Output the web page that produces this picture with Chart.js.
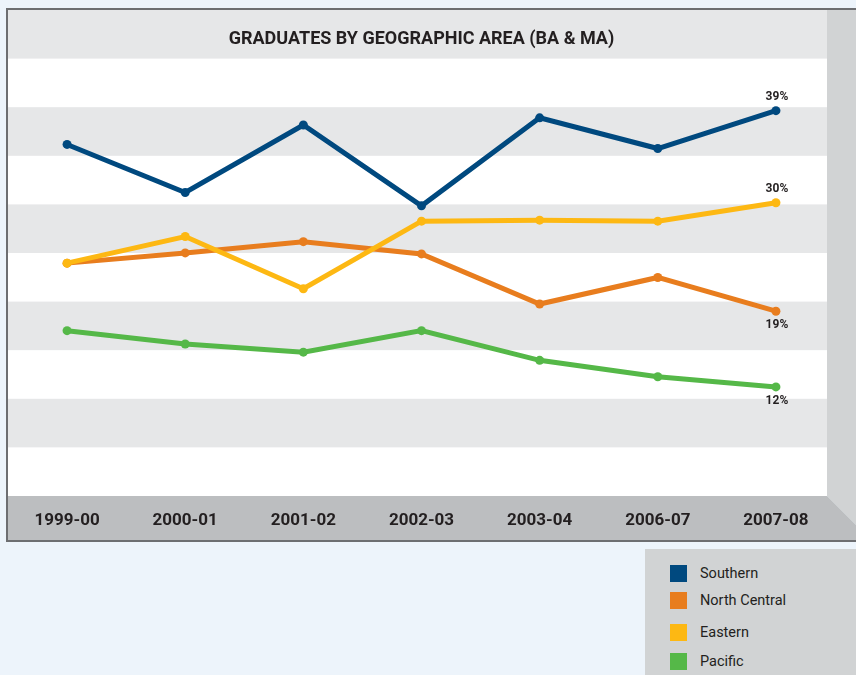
<!DOCTYPE html>
<html>
<head>
<meta charset="utf-8">
<script src="https://cdn.jsdelivr.net/npm/chart.js@4"></script>
<style>
    body { margin: 0; background: #edf4fb; }
    #wrap { position: relative; width: 856px; height: 675px; overflow: hidden; }
    #legend {
        position: absolute; left: 645px; top: 549px; width: 211px; height: 126px;
        background: #d1d3d4; font-family: Roboto, 'Liberation Sans', sans-serif;
        font-size: 14.5px; color: #231f20;
    }
    .item { position: absolute; left: 25px; height: 17px; line-height: 17px; }
    .item span { display: inline-block; width: 17px; height: 17px; vertical-align: top; margin-right: 13px; }
</style>
</head>
<body>
<div id="wrap">
    <canvas id="chart" width="856" height="675"></canvas>
    <div id="legend"></div>
</div>
<script>
const years = ['1999-00', '2000-01', '2001-02', '2002-03', '2003-04', '2006-07', '2007-08'];
const seriesNames = ['Southern', 'North Central', 'Eastern', 'Pacific'];
const southern = [35.7, 31.0, 37.6, 29.7, 38.3, 35.3, 39.0];
const northCentral = [24.1, 25.1, 26.2, 25.0, 20.1, 22.7, 19.4];
const eastern = [24.1, 26.7, 21.6, 28.2, 28.3, 28.2, 30.0];
const pacific = [17.5, 16.2, 15.4, 17.5, 14.6, 13.0, 12.0];
const colors = ['#00497f', '#e87d1e', '#fdb813', '#55b848'];
const labelSide = ['top', 'bottom', 'top', 'bottom'];

const boldFont = "Roboto, 'Liberation Sans', sans-serif";

// panel, stripes, side wall and floor band behind the lines
const backdrop = {
    id: 'backdrop',
    beforeDraw(chart) {
        const ctx = chart.ctx;
        const area = chart.chartArea;
        const h = (area.bottom - area.top) / 9;
        const top = area.top - h;
        const wallX = 827;
        ctx.save();
        for (let i = 0; i < 10; i++) {
            ctx.fillStyle = i % 2 === 0 ? '#e6e7e8' : '#ffffff';
            ctx.fillRect(8, top + i * h, wallX - 8, h + 0.5);
        }
        ctx.fillStyle = '#d1d3d4';
        ctx.beginPath();
        ctx.moveTo(wallX, top);
        ctx.lineTo(856, top);
        ctx.lineTo(856, area.bottom + 29);
        ctx.lineTo(wallX, area.bottom);
        ctx.closePath();
        ctx.fill();
        ctx.fillStyle = '#bcbec0';
        ctx.beginPath();
        ctx.moveTo(8, area.bottom);
        ctx.lineTo(wallX, area.bottom);
        ctx.lineTo(856, area.bottom + 29);
        ctx.lineTo(856, 540);
        ctx.lineTo(8, 540);
        ctx.closePath();
        ctx.fill();
        ctx.strokeStyle = '#6d6e71';
        ctx.lineWidth = 2;
        ctx.beginPath();
        ctx.moveTo(860, 9);
        ctx.lineTo(7, 9);
        ctx.lineTo(7, 541);
        ctx.lineTo(860, 541);
        ctx.stroke();
        ctx.restore();
    }
};

const endLabels = {
    id: 'endLabels',
    afterDatasetsDraw(chart) {
        const ctx = chart.ctx;
        ctx.save();
        ctx.font = 'bold 12px ' + boldFont;
        ctx.fillStyle = '#231f20';
        ctx.textAlign = 'center';
        ctx.textBaseline = 'middle';
        chart.data.datasets.forEach((ds, i) => {
            const side = labelSide[seriesNames.indexOf(ds.label)];
            const meta = chart.getDatasetMeta(i);
            const last = ds.data.length - 1;
            const pt = meta.data[last];
            const y = side === 'top' ? pt.y - 14 : pt.y + 14;
            ctx.fillText(Math.round(ds.data[last]) + '%', pt.x + 1, y);
        });
        ctx.restore();
    }
};

const allData = [southern, northCentral, eastern, pacific];

new Chart(document.getElementById('chart'), {
    type: 'line',
    data: {
        labels: years,
        datasets: seriesNames.map((name, i) => ({
            label: name,
            data: allData[i],
            borderColor: colors[i],
            backgroundColor: colors[i],
            borderWidth: 5,
            pointRadius: 4.5,
            pointBorderWidth: 0,
            tension: 0
        })).reverse()
    },
    options: {
        responsive: false,
        animation: false,
        layout: { padding: { left: 8, right: 21, top: 0, bottom: 0 } },
        plugins: {
            legend: { display: false },
            tooltip: { enabled: false },
            title: {
                display: true,
                text: 'GRADUATES BY GEOGRAPHIC AREA (BA & MA)',
                color: '#231f20',
                font: { family: boldFont, size: 18, weight: 'bold' },
                padding: { top: 29, bottom: 8 }
            }
        },
        scales: {
            x: {
                offset: true,
                grid: { display: false, drawTicks: false },
                border: { display: false },
                ticks: {
                    color: '#231f20',
                    padding: 15,
                    font: { family: boldFont, size: 17, weight: 'bold' }
                },
                afterFit: s => { s.height = 179; }
            },
            y: {
                display: false,
                min: 1.34,
                max: 44.09
            }
        }
    },
    plugins: [backdrop, endLabels]
});

// legend as html, built from the series arrays
const legend = document.getElementById('legend');
const rowTops = [16, 43, 75, 104];
seriesNames.forEach((name, i) => {
    const div = document.createElement('div');
    div.className = 'item';
    div.style.top = rowTops[i] + 'px';
    div.innerHTML = '<span style="background:' + colors[i] + '"></span>' + name;
    legend.appendChild(div);
});
</script>
</body>
</html>
